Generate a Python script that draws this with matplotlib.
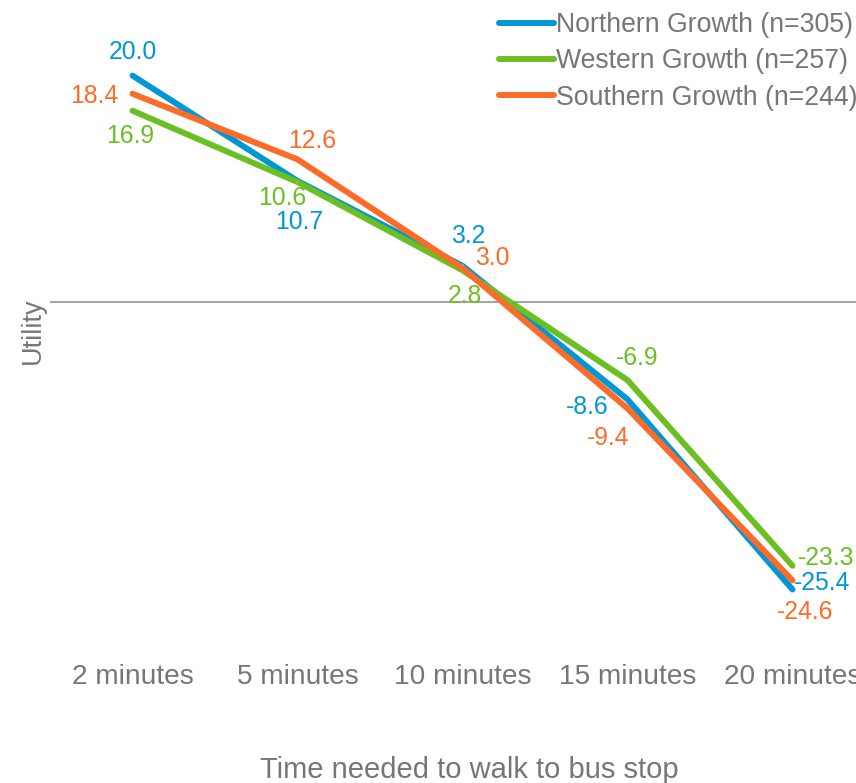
import matplotlib
matplotlib.use("Agg")
import matplotlib.pyplot as plt

plt.rcParams['font.family'] = ['Liberation Sans', 'DejaVu Sans']

categories = ["2 minutes", "5 minutes", "10 minutes", "15 minutes", "20 minutes"]
series_names = ["Northern Growth (n=305)", "Western Growth (n=257)", "Southern Growth (n=244)"]
northern = [20.0, 10.7, 3.2, -8.6, -25.4]
western = [16.9, 10.6, 2.8, -6.9, -23.3]
southern = [18.4, 12.6, 3.0, -9.4, -24.6]

colors = ["#0097d7", "#6cbf22", "#fd6b28"]
text_gray = "#767676"

# label offsets in pixels (dx, dy) per series and category
label_offsets = [
    [(0, 24), (2, -41), (6, 30), (-40, -8), (30, 7)],
    [(-2, -25), (-15, -16), (2, -26), (10, 22), (34, 8)],
    [(-38, -2), (15, 18), (30, 10), (-19, -30), (13, -32)],
]
leaders = {(0, 2), (1, 1)}

fig = plt.figure(figsize=(8.56, 7.83), dpi=100)
ax = fig.add_axes([50 / 856, 0.1806, 825 / 856, 0.7951])

x = list(range(len(categories)))
all_series = [northern, western, southern]
for vals, name, col in zip(all_series, series_names, colors):
    ax.plot(x, vals, color=col, lw=4.3, label=name, solid_capstyle='round',
            solid_joinstyle='miter', zorder=3)

for si, (vals, col) in enumerate(zip(all_series, colors)):
    for ci, v in enumerate(vals):
        dx, dy = label_offsets[si][ci]
        kw = {}
        if (si, ci) in leaders:
            kw['arrowprops'] = dict(arrowstyle='-', color='#aaaaaa', lw=1,
                                    shrinkA=10, shrinkB=2)
        ax.annotate(f"{v:.1f}", (ci, v), xytext=(dx, dy), textcoords='offset pixels',
                    ha='center', va='center', color=col, fontsize=17.8, zorder=4, **kw)

ax.axhline(0, color="#a6a6a6", lw=1.5, zorder=1)
ax.set_xlim(-0.5, 4.5)
ax.set_ylim(-30, 25)
ax.set_xticks(x)
ax.set_xticklabels(categories)
ax.set_yticks([])
ax.tick_params(axis='x', length=0, pad=16, labelsize=20.2, labelcolor=text_gray)
for s in ax.spines.values():
    s.set_visible(False)

ax.set_xlabel("Time needed to walk to bus stop", fontsize=21, color=text_gray)
ax.xaxis.set_label_coords((469 - 50) / 825, -(770 - 641.6) / 622.6)
ax.xaxis.label.set_va('center')
ax.set_ylabel("Utility", fontsize=19.5, color=text_gray)
ax.yaxis.set_label_coords((33 - 50) / 825, 0.5)
ax.yaxis.label.set_va('center')

leg = fig.legend(loc='upper left', bbox_to_anchor=(499 / 856, 1 - 12 / 783),
                 frameon=False, fontsize=19.2, handlelength=2.05, handletextpad=0.1,
                 labelspacing=0.39, borderpad=0, borderaxespad=0)
for t in leg.get_texts():
    t.set_color(text_gray)

fig.savefig("out.png", dpi=100)
